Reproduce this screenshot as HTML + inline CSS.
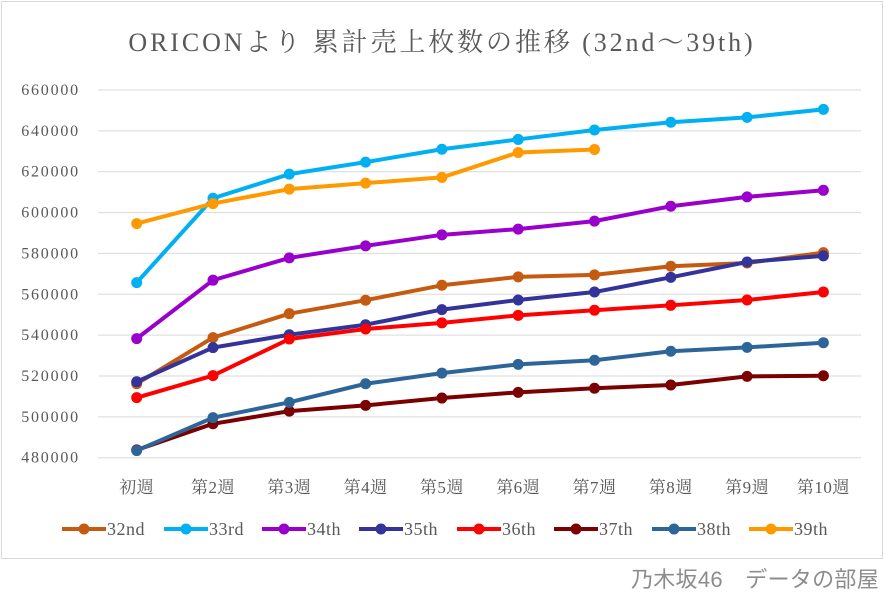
<!DOCTYPE html>
<html><head><meta charset="utf-8">
<style>
html,body{margin:0;padding:0;background:#fff;}
svg text{font-family:"Liberation Serif","Noto Serif CJK SC",serif;fill:#595959;}
</style></head>
<body>
<svg id="chart" width="886" height="599" xmlns="http://www.w3.org/2000/svg">
<rect x="1.5" y="1.5" width="881" height="557" fill="#fff" stroke="#d9d9d9" stroke-width="1"/>
<text x="442" y="51" font-size="26" letter-spacing="2.9" text-anchor="middle">ORICONより 累計売上枚数の推移 (32nd～39th)</text>
<g id="grid"></g><g id="yt"></g><g id="xt"></g><g id="series"></g><g id="legend"></g>
<text x="879" y="587" font-size="22" letter-spacing="0.3" text-anchor="end" style="font-family:'Liberation Sans','Noto Sans CJK JP',sans-serif;fill:#8c8c8c">乃木坂46　データの部屋</text>
</svg>
<script>
const categories=["初週","第2週","第3週","第4週","第5週","第6週","第7週","第8週","第9週","第10週"];
const yTicks=[480000,500000,520000,540000,560000,580000,600000,620000,640000,660000];
const seriesNames=["32nd","33rd","34th","35th","36th","37th","38th","39th"];
const seriesColors=["#c55a11","#00b0f0","#9900cc","#333399","#ff0000","#7b0000","#2e6599","#ff9900"];
const s32=[516200,538800,550500,557100,564400,568500,569500,573700,575300,580400];
const s33=[565700,607000,618800,624700,631000,635800,640400,644200,646600,650500];
const s34=[538300,566900,577800,583700,589100,591900,595800,603100,607700,610900];
const s35=[517200,533900,540200,545100,552500,557200,561100,568300,575800,578800];
const s36=[509400,520200,538100,543000,546000,549700,552200,554600,557200,561100];
const s37=[483800,496600,502800,505600,509200,512000,514000,515600,519800,520100];
const s38=[483500,499600,507100,516200,521400,525700,527700,532100,534000,536300];
const s39=[594600,604400,611500,614400,617200,629400,630900];
const allSeries=[s32,s33,s34,s35,s36,s37,s38,s39];
const NS="http://www.w3.org/2000/svg";
const yMin=480000,yMax=660000,yTop=90,yBot=457.7;
function yS(v){return yBot-(v-yMin)/(yMax-yMin)*(yBot-yTop);}
function xS(i){return 136.7+i*76.3;}
function mk(tag,attrs,parent){const e=document.createElementNS(NS,tag);for(const k in attrs)e.setAttribute(k,attrs[k]);parent.appendChild(e);return e;}
const grid=document.getElementById('grid'),yt=document.getElementById('yt'),xt=document.getElementById('xt'),ser=document.getElementById('series'),leg=document.getElementById('legend');
yTicks.forEach(v=>{
  const l=mk('line',{x1:98,x2:861,y1:yS(v),y2:yS(v),stroke:'#d9d9d9','stroke-width':1},grid);
  
  
  const t=mk('text',{x:80,y:yS(v)+5,'font-size':16,'letter-spacing':1.8,'text-anchor':'end'},yt);
  
  
  t.textContent=v;
});
categories.forEach((c,i)=>{
  const t=mk('text',{x:xS(i),y:493,'font-size':17,'letter-spacing':0.5,'text-anchor':'middle'},xt);
  
  
  t.textContent=c;
});
allSeries.forEach((d,si)=>{
  const g=mk('g',{},ser);
  
  
  const pts=d.map((v,i)=>xS(i)+','+yS(v)).join(' ');
  const pl=mk('polyline',{points:pts,fill:'none',stroke:seriesColors[si],'stroke-width':4,'stroke-linejoin':'round'},g);
  
  
  d.forEach((v,i)=>{
    const c=mk('circle',{cx:xS(i),cy:yS(v),r:5.5,fill:seriesColors[si]},g);
    
    
  });
});
const legX=[62,164,262,359,457,554,652,749];
seriesNames.forEach((n,si)=>{
  const g=mk('g',{},leg);
  
  
  const x=legX[si];
  mk('line',{x1:x,x2:x+44,y1:529,y2:529,stroke:seriesColors[si],'stroke-width':4},g);
  mk('circle',{cx:x+22,cy:529,r:5.5,fill:seriesColors[si]},g);
  const t=mk('text',{x:x+45,y:535,'font-size':18,'letter-spacing':0.5},g);
  t.textContent=n;
});
</script>
</body></html>
